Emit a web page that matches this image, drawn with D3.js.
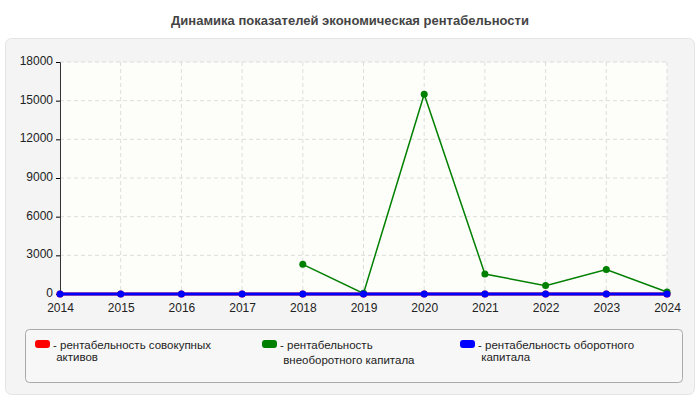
<!DOCTYPE html>
<html lang="ru">
<head>
<meta charset="UTF-8">
<style>
  body { margin: 0; background: #fff; font-family: "Liberation Sans", Arial, sans-serif; }
  .grid line { stroke: #ddd; stroke-dasharray: 4,3; }
  .axis text { font-size: 12px; fill: #222; }
</style>
</head>
<body>
<div id="chart"></div>
<script src="https://d3js.org/d3.v7.min.js"></script>
<script>
const years = [2014, 2015, 2016, 2017, 2018, 2019, 2020, 2021, 2022, 2023, 2024];
const totalAssets = [0, 0, 0, 0, 0, 0, 0, 0, 0, 0, 0];
const nonCurrent = [null, null, null, null, 2300, 50, 15500, 1550, 650, 1900, 150];
const working = [0, 0, 0, 0, 0, 0, 0, 0, 0, 0, 0];
const yTicks = [0, 3000, 6000, 9000, 12000, 15000, 18000];

const series = [
  { name: "рентабельность совокупных активов", lines: ["рентабельность совокупных", "активов"], color: "#ff0000", values: totalAssets },
  { name: "рентабельность внеоборотного капитала", lines: ["рентабельность", "внеоборотного капитала"], color: "#008000", values: nonCurrent },
  { name: "рентабельность оборотного капитала", lines: ["рентабельность оборотного", "капитала"], color: "#0000ff", values: working }
];

const width = 700, height = 400;
const svg = d3.select("#chart").append("svg").attr("width", width).attr("height", height);

svg.append("text").attr("x", 350).attr("y", 25).attr("text-anchor", "middle")
  .attr("font-size", 13).attr("font-weight", "bold").attr("fill", "#444")
  .text("Динамика показателей экономическая рентабельности");

svg.append("rect").attr("x", 5.5).attr("y", 38.5).attr("width", 689).attr("height", 356)
  .attr("rx", 6).attr("fill", "#f4f4f4").attr("stroke", "#e4e4e4");

const x = d3.scalePoint().domain(years).range([60, 667]);
const y = d3.scaleLinear().domain([0, 18000]).range([294, 62]);

svg.append("rect").attr("x", 60).attr("y", 62).attr("width", 607).attr("height", 232).attr("fill", "#fdfdf9");

const grid = svg.append("g").attr("class", "grid");
grid.selectAll(".h").data(yTicks.slice(1)).enter().append("line")
  .attr("x1", 60).attr("x2", 667).attr("y1", d => y(d)).attr("y2", d => y(d));
grid.selectAll(".v").data(years.slice(1)).enter().append("line")
  .attr("y1", 62).attr("y2", 294).attr("x1", d => x(d)).attr("x2", d => x(d));

svg.append("g").attr("class", "axis").attr("transform", "translate(60,0)")
  .call(d3.axisLeft(y).tickValues(yTicks).tickSize(4).tickFormat(d3.format("d")))
  .call(g => g.select(".domain").attr("stroke", "#333"))
  .call(g => g.selectAll(".tick text").attr("dy", "0.2em"));
svg.append("g").attr("class", "axis").attr("transform", "translate(0,294)")
  .call(d3.axisBottom(x).tickSize(0).tickPadding(9))
  .call(g => g.select(".domain").attr("stroke", "#333"));

const line = d3.line().defined(d => d.v !== null).x(d => x(d.year)).y(d => y(d.v));
series.forEach(s => {
  const pts = years.map((yr, i) => ({ year: yr, v: s.values[i] }));
  svg.append("path").datum(pts).attr("d", line).attr("fill", "none")
    .attr("stroke", s.color).attr("stroke-width", s.color === "#008000" ? 1.5 : 3);
  svg.selectAll(null).data(pts.filter(d => d.v !== null)).enter().append("circle")
    .attr("cx", d => x(d.year)).attr("cy", d => y(d.v)).attr("r", 3.5).attr("fill", s.color);
});

svg.append("rect").attr("x", 25.5).attr("y", 329.5).attr("width", 657).attr("height", 53)
  .attr("rx", 4).attr("fill", "#f7f7f7").attr("stroke", "#aaa");
const lx = [35, 262, 460];
series.forEach((s, i) => {
  const g = svg.append("g").attr("transform", `translate(${lx[i]},340)`);
  g.append("rect").attr("width", 15).attr("height", 8).attr("rx", 3).attr("fill", s.color);
  const t = g.append("text").attr("font-size", 11.5).attr("fill", "#222");
  s.lines.forEach((l, j) => t.append("tspan").attr("x", 18).attr("y", 9 + j * (i === 1 ? 15 : 12))
    .text((j === 0 ? "- " : "  ") + l));
});
</script>
</body>
</html>
